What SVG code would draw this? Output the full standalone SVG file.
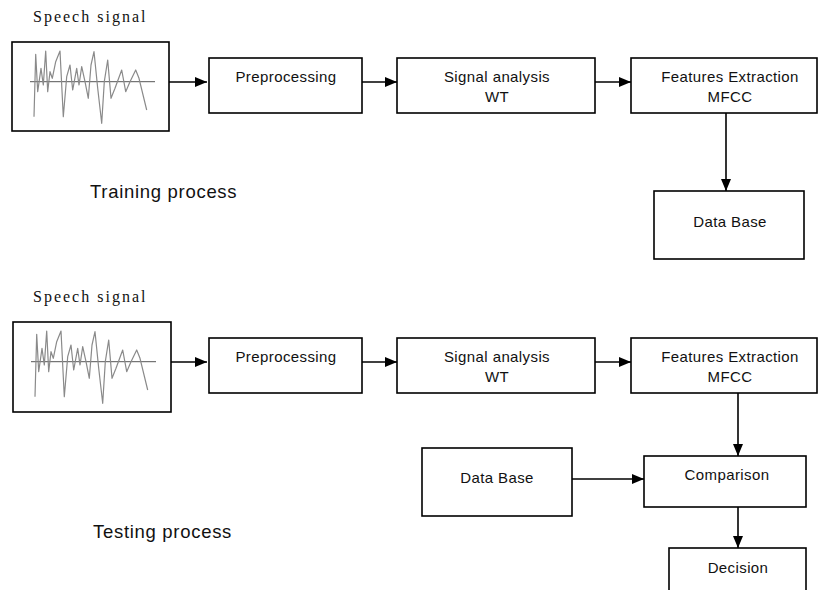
<svg xmlns="http://www.w3.org/2000/svg" xmlns:xlink="http://www.w3.org/1999/xlink" width="818" height="590" viewBox="0 0 818 590">
<style>
.box{fill:#fff;stroke:#000;stroke-width:1.6}
.t{font-family:"Liberation Sans",Arial,sans-serif;font-size:15px;letter-spacing:0.4px;fill:#111;text-anchor:middle}
.lbl{font-family:"Liberation Sans",Arial,sans-serif;font-size:18.5px;letter-spacing:0.7px;fill:#111}
.ser{font-family:"Liberation Serif","Times New Roman",serif;font-size:16px;letter-spacing:2px;fill:#111}
.wave{fill:none;stroke:#8a8a8a;stroke-width:1.2;stroke-linejoin:round}
.axis{stroke:#555;stroke-width:1}
.conn{stroke:#000;stroke-width:1.6;fill:none;marker-end:url(#ah)}
</style>
<defs>
<marker id="ah" markerWidth="12" markerHeight="10" refX="12" refY="5" orient="auto" markerUnits="userSpaceOnUse">
<path d="M0,0 L12,5 L0,10 Z" fill="#000"/>
</marker>
<g id="sig">
<line class="axis" x1="30" y1="81.7" x2="155" y2="81.7"/>
<polyline class="wave" points="34,116.7 35.7,54.3 37.7,91.7 41,68.3 43.3,85 45.7,51 47.7,91.7 50,71.7 52.3,78.3 55.7,61.7 60,51 63.3,116.7 66.7,76.7 70,65 72.7,90 76.7,68.3 79,85 81.7,66.7 85,81.7 88.3,98.3 91,65 94,51.7 97.7,88.3 101.7,123.3 104.3,81.7 107.7,60 111,98.3 115,88.3 121.7,70 125.7,91.7 130,81.7 135.7,70 139,78.3 146.7,110"/>
</g>
</defs>
<rect width="818" height="590" fill="#fff"/>

<!-- Training -->
<g id="train-speech">
<text class="ser" x="33" y="22">Speech signal</text>
<rect class="box" x="12" y="42" width="157" height="89"/>
<use xlink:href="#sig"/>
</g>
<g id="train-pre">
<rect class="box" x="209" y="58" width="153" height="55"/>
<text class="t" x="286" y="82">Preprocessing</text>
</g>
<g id="train-sa">
<rect class="box" x="397" y="58" width="198" height="55"/>
<text class="t" x="497" y="82">Signal analysis</text>
<text class="t" x="497" y="102">WT</text>
</g>
<g id="train-fe">
<rect class="box" x="631" y="58" width="186" height="55"/>
<text class="t" x="730" y="82">Features Extraction</text>
<text class="t" x="730" y="102">MFCC</text>
</g>
<g id="train-db">
<rect class="box" x="654" y="191" width="150" height="68"/>
<text class="t" x="730" y="227">Data Base</text>
</g>
<g id="train-label">
<text class="lbl" x="90" y="198">Training process</text>
</g>

<!-- Testing -->
<g id="test-speech">
<text class="ser" x="33" y="302">Speech signal</text>
<rect class="box" x="13" y="322" width="158" height="90"/>
<use xlink:href="#sig" transform="translate(1,280)"/>
</g>
<g id="test-pre">
<rect class="box" x="209" y="338" width="153" height="55"/>
<text class="t" x="286" y="362">Preprocessing</text>
</g>
<g id="test-sa">
<rect class="box" x="397" y="338" width="198" height="55"/>
<text class="t" x="497" y="362">Signal analysis</text>
<text class="t" x="497" y="382">WT</text>
</g>
<g id="test-fe">
<rect class="box" x="631" y="338" width="186" height="55"/>
<text class="t" x="730" y="362">Features Extraction</text>
<text class="t" x="730" y="382">MFCC</text>
</g>
<g id="test-db">
<rect class="box" x="422" y="448" width="150" height="68"/>
<text class="t" x="497" y="483">Data Base</text>
</g>
<g id="test-cmp">
<rect class="box" x="644" y="456" width="162" height="51"/>
<text class="t" x="727" y="480">Comparison</text>
</g>
<g id="test-dec">
<rect class="box" x="669" y="548" width="137" height="50"/>
<text class="t" x="738" y="573">Decision</text>
</g>
<g id="test-label">
<text class="lbl" x="93" y="538">Testing process</text>
</g>

<g id="connectors">
<line class="conn" x1="169" y1="82" x2="207" y2="82"/>
<line class="conn" x1="362" y1="82" x2="397" y2="82"/>
<line class="conn" x1="595" y1="82" x2="631" y2="82"/>
<line class="conn" x1="726" y1="113" x2="726" y2="191"/>
<line class="conn" x1="171" y1="362" x2="207" y2="362"/>
<line class="conn" x1="362" y1="362" x2="397" y2="362"/>
<line class="conn" x1="595" y1="362" x2="631" y2="362"/>
<line class="conn" x1="738" y1="393" x2="738" y2="456"/>
<line class="conn" x1="572" y1="479" x2="644" y2="479"/>
<line class="conn" x1="738" y1="507" x2="738" y2="548"/>
</g>
</svg>
